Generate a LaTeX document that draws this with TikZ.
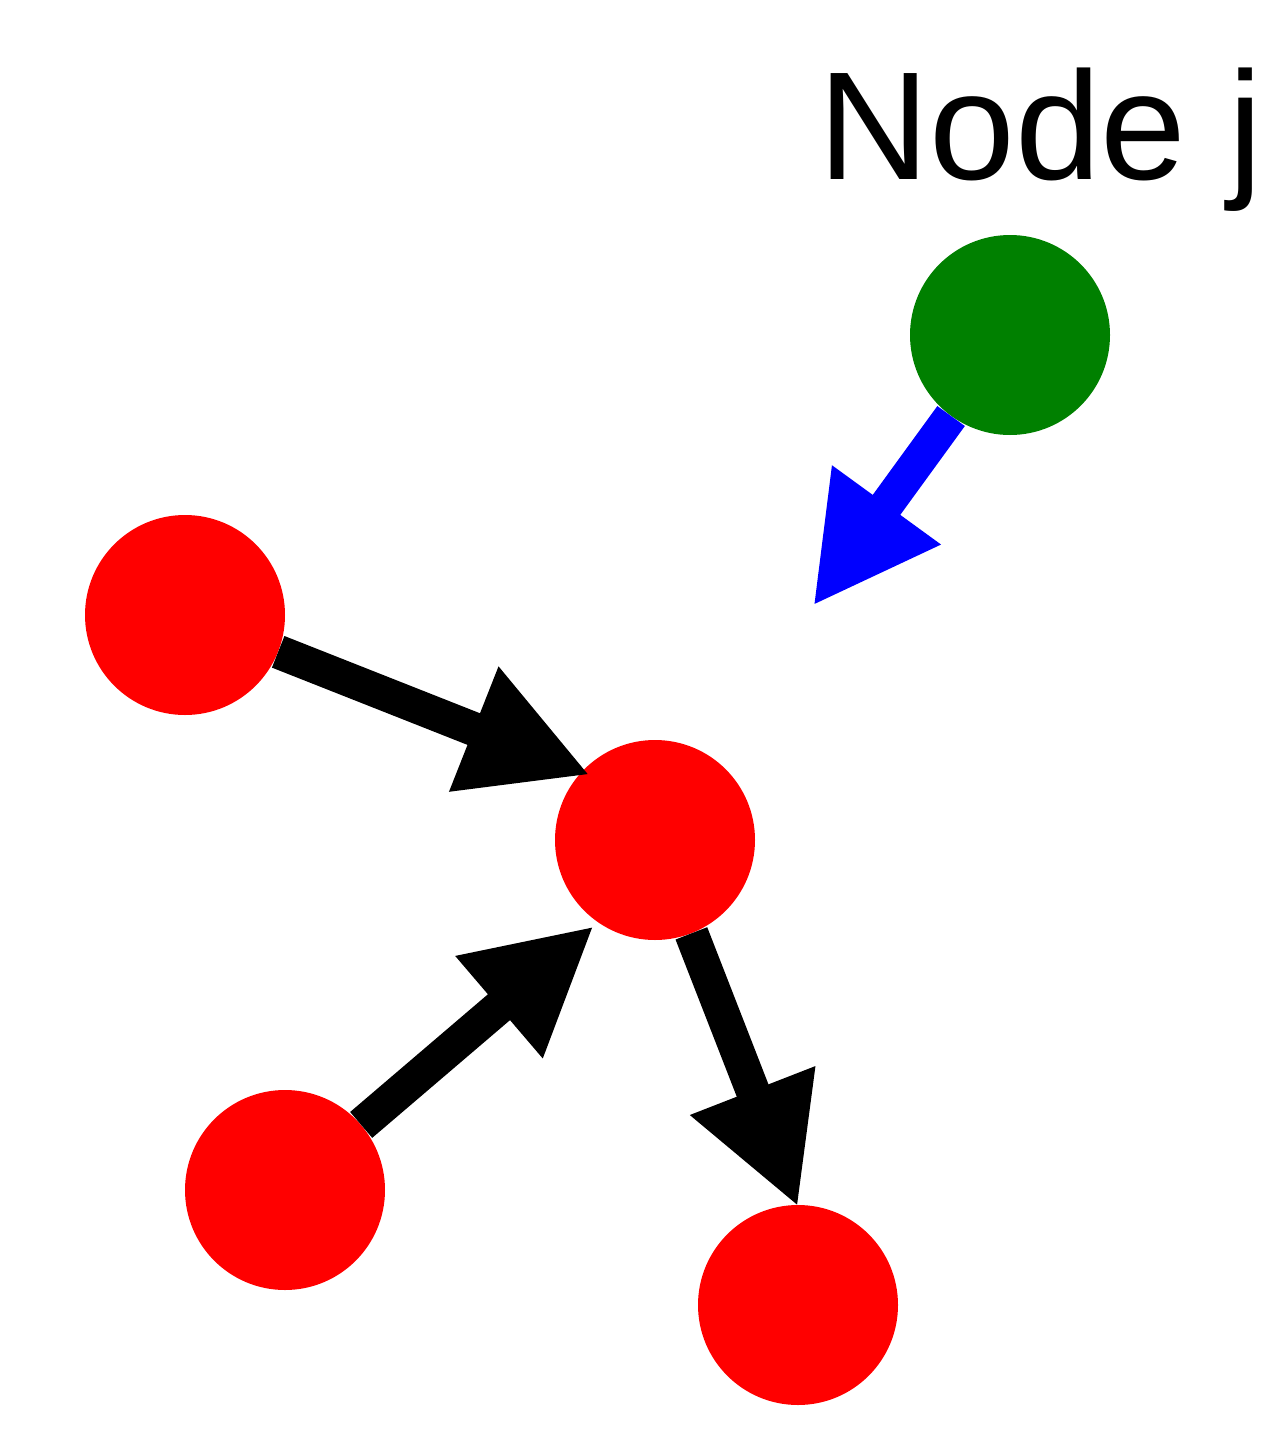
\documentclass[tikz,border=0pt]{standalone}
\usepackage{fontspec}
\setmainfont{Liberation Sans}
\usetikzlibrary{arrows.meta}
\definecolor{dgreen}{RGB}{0,128,0}
\begin{document}
\begin{tikzpicture}[x=1pt,y=-1pt,
  dot/.style={circle,minimum size=200pt,inner sep=0pt,draw=none},
  edge/.style={line width=34pt,-{Triangle[length=125pt,width=125pt]}}]
\useasboundingbox (0,0) rectangle (1286,1450);
\node[dot,fill=dgreen] (g) at (1010,335) {};
\node[dot,fill=red] (a) at (185,615) {};
\node[dot,fill=red] (c) at (655,840) {};
\node[dot,fill=red] (b) at (285,1190) {};
\node[dot,fill=red] (d) at (798,1305) {};
\coordinate (t1) at (590,775);
\coordinate (t2) at (594,926);
\coordinate (t3) at (798,1207);
\coordinate (t4) at (813,606);
\node[anchor=base west,inner sep=0pt,font=\fontsize{154}{154}\selectfont] (lbl) at (818,180) {Node j};
\draw[edge] (a) -- (t1);
\draw[edge] (b) -- (t2);
\draw[edge] (c) -- (t3);
\draw[edge,blue] (g) -- (t4);
\end{tikzpicture}
\end{document}
